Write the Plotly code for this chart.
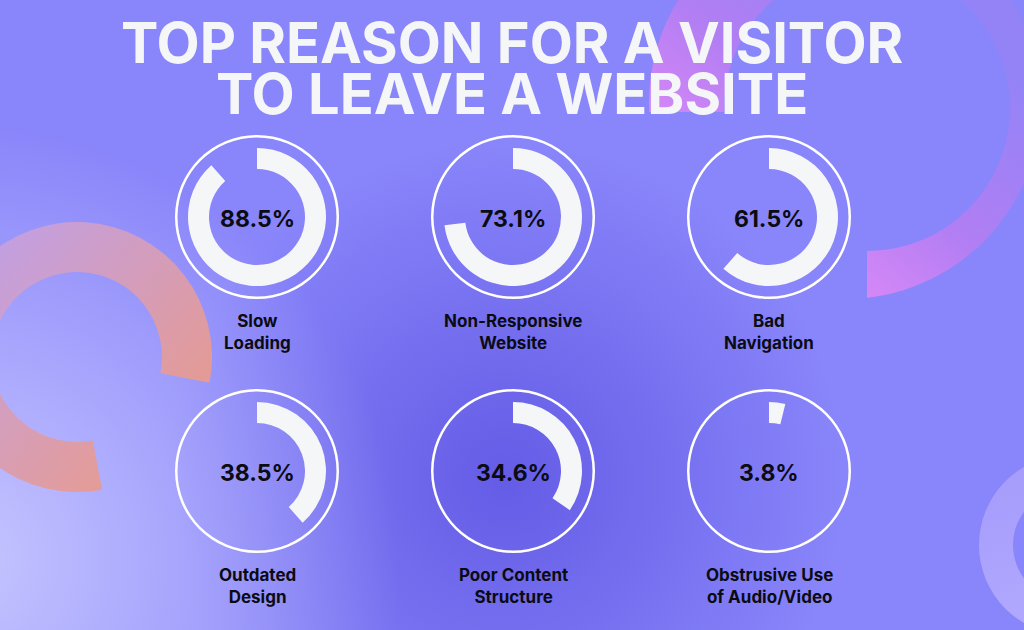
import math, base64
import plotly.graph_objects as go

# ---------------- data ----------------
title_lines = ["TOP REASON FOR A VISITOR", "TO LEAVE A WEBSITE"]
categories = ["Slow<br>Loading", "Non-Responsive<br>Website", "Bad<br>Navigation",
              "Outdated<br>Design", "Poor Content<br>Structure", "Obstrusive Use<br>of Audio/Video"]
values = [88.5, 73.1, 61.5, 38.5, 34.6, 3.8]

# ---------------- layout constants ----------------
W, H = 1024, 630
col_x = [257, 513, 769]
row_y = [217, 471]
R_ARC, R_HOLE = 69, 48
R_RING, RING_W = 82, 2.5
ARC_COLOR = "#F5F6F8"
FONT = "Inter"

def dom(cx, cy, r):
    return dict(x=[(cx - r) / W, (cx + r) / W], y=[1 - (cy + r) / H, 1 - (cy - r) / H])

# ---------------- background svg ----------------
def pt(cx, cy, r, deg):
    a = math.radians(deg)
    return cx + r * math.cos(a), cy + r * math.sin(a)

# salmon ring (left)
scx, scy, so, si, a0, a1 = 77, 357, 135, 85, 79.3, 371.0
p1 = pt(scx, scy, so, a0); p2 = pt(scx, scy, so, a1)
p3 = pt(scx, scy, si, a1); p4 = pt(scx, scy, si, a0)
salmon = (f"M{p1[0]:.1f},{p1[1]:.1f} A{so},{so} 0 1 1 {p2[0]:.1f},{p2[1]:.1f} "
          f"L{p3[0]:.1f},{p3[1]:.1f} A{si},{si} 0 1 0 {p4[0]:.1f},{p4[1]:.1f} Z")

# pink crescent (top right)
ocx, ocy, orr = 845, 103, 196
icx, icy, irr = 867, 108, 143
cut_y, cut_x = 112, 867
q1 = (ocx - math.sqrt(orr**2 - (cut_y - ocy)**2), cut_y)
q2 = (cut_x, ocy + math.sqrt(orr**2 - (cut_x - ocx)**2))
q3 = (cut_x, icy + math.sqrt(irr**2 - (cut_x - icx)**2))
q4 = (icx - math.sqrt(irr**2 - (cut_y - icy)**2), cut_y)
pink = (f"M{q1[0]:.1f},{q1[1]:.1f} A{orr},{orr} 0 1 1 {q2[0]:.1f},{q2[1]:.1f} "
        f"L{q3[0]:.1f},{q3[1]:.1f} A{irr},{irr} 0 1 0 {q4[0]:.1f},{q4[1]:.1f} Z")

# lavender ring (bottom right)
lcx, lcy, lo, li = 1069, 545, 90, 56
lav = (f"M{lcx-lo},{lcy} a{lo},{lo} 0 1 0 {2*lo},0 a{lo},{lo} 0 1 0 {-2*lo},0 Z "
       f"M{lcx-li},{lcy} a{li},{li} 0 1 0 {2*li},0 a{li},{li} 0 1 0 {-2*li},0 Z")

svg = f"""<svg xmlns='http://www.w3.org/2000/svg' width='{W}' height='{H}' viewBox='0 0 {W} {H}'>
<defs>
<radialGradient id='dk' cx='505' cy='480' r='340' gradientUnits='userSpaceOnUse'>
<stop offset='0' stop-color='#645CE6'/><stop offset='1' stop-color='#645CE6' stop-opacity='0'/></radialGradient>
<radialGradient id='lt' cx='-40' cy='560' r='440' gradientUnits='userSpaceOnUse'>
<stop offset='0' stop-color='#C6C6FF'/><stop offset='1' stop-color='#C6C6FF' stop-opacity='0'/></radialGradient>
<linearGradient id='pk' x1='700' y1='300' x2='950' y2='0' gradientUnits='userSpaceOnUse'>
<stop offset='0.15' stop-color='#E68CF8'/><stop offset='0.55' stop-color='#B27EF3'/><stop offset='0.95' stop-color='#9483F7'/></linearGradient>
<linearGradient id='sm' x1='0' y1='230' x2='210' y2='420' gradientUnits='userSpaceOnUse'>
<stop offset='0' stop-color='#C4A0E2'/><stop offset='1' stop-color='#EC9A86'/></linearGradient>
<linearGradient id='lv' x1='980' y1='500' x2='1024' y2='620' gradientUnits='userSpaceOnUse'>
<stop offset='0' stop-color='#ACA2FC'/><stop offset='1' stop-color='#B8AEFF'/></linearGradient>
</defs>
<rect width='{W}' height='{H}' fill='#8985FA'/>
<rect width='{W}' height='{H}' fill='url(#dk)'/>
<rect width='{W}' height='{H}' fill='url(#lt)'/>
<path d='{pink}' fill='url(#pk)'/>
<path d='{salmon}' fill='url(#sm)' opacity='0.95'/>
<path d='{lav}' fill='url(#lv)' fill-rule='evenodd' opacity='0.85'/>
</svg>"""
bg_src = "data:image/svg+xml;base64," + base64.b64encode(svg.encode()).decode()

# ---------------- figure ----------------
fig = go.Figure()
annotations = []
for i, (cat, v) in enumerate(zip(categories, values)):
    cx, cy = col_x[i % 3], row_y[i // 3]
    # outline ring
    fig.add_trace(go.Pie(values=[1], hole=(R_RING - RING_W) / R_RING,
                         marker=dict(colors=["#FFFFFF"], line=dict(width=0)),
                         textinfo="none", hoverinfo="skip", showlegend=False, sort=False,
                         domain=dom(cx, cy, R_RING)))
    # value arc
    fig.add_trace(go.Pie(values=[v, 100 - v], hole=R_HOLE / R_ARC,
                         marker=dict(colors=[ARC_COLOR, "rgba(0,0,0,0)"], line=dict(width=0)),
                         direction="clockwise", rotation=0, sort=False,
                         textinfo="none", hoverinfo="skip", showlegend=False,
                         domain=dom(cx, cy, R_ARC)))
    annotations.append(dict(x=cx / W, y=1 - (cy + 2) / H, xref="paper", yref="paper",
                            text=f"<b>{v:.1f}%</b>", showarrow=False,
                            font=dict(family=FONT, size=23, color="#0B0B12", weight=800),
                            xanchor="center", yanchor="middle"))
    annotations.append(dict(x=cx / W, y=1 - (cy + 115) / H, xref="paper", yref="paper",
                            text=f"<b>{cat}</b>", showarrow=False,
                            font=dict(family=FONT, size=17, color="#0B0B12", weight=700),
                            xanchor="center", yanchor="middle", align="center"))

for j, (line, ty) in enumerate(zip(title_lines, [43, 94])):
    annotations.append(dict(x=0.5, y=1 - ty / H, xref="paper", yref="paper",
                            text=f"<b>{line}</b>", showarrow=False,
                            font=dict(family=FONT, size=56, color="#F5F6F8", weight=800),
                            xanchor="center", yanchor="middle"))

fig.update_layout(
    width=W, height=H, margin=dict(l=0, r=0, t=0, b=0),
    paper_bgcolor="#8985FA", plot_bgcolor="rgba(0,0,0,0)",
    annotations=annotations,
    images=[dict(source=bg_src, xref="paper", yref="paper", x=0, y=1, sizex=1, sizey=1,
                 xanchor="left", yanchor="top", sizing="stretch", layer="below")],
    showlegend=False,
)
fig.write_html("out.html", config={"displayModeBar": False})
